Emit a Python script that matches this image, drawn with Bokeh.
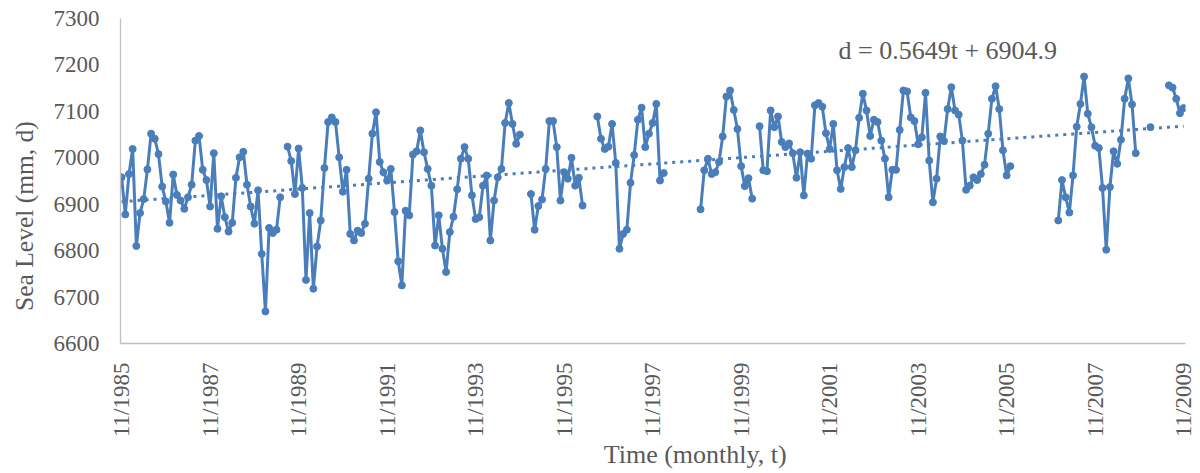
import numpy as np
from bokeh.plotting import figure
from bokeh.models import FixedTicker, Label
from bokeh.embed import file_html
from bokeh.resources import INLINE

# Monthly sea level (mm), t = 1 .. 289 (11/1985 .. 11/2009); None = missing month
sea_level = [
    6958, 6878, 6965, 7019, 6810, 6881, 6911, 6975, 7052, 7041, 7008, 6938,
    6906, 6860, 6964, 6920, 6908, 6890, 6915, 6942, 7037, 7047, 6974, 6952,
    6895, 7010, 6847, 6917, 6872, 6841, 6860, 6957, 7001, 7013, 6942, 6895,
    6858, 6930, 6793, 6669, 6849, 6838, 6845, 6915, None, 7024, 6993, 6922,
    7020, 6935, 6737, 6881, 6718, 6809, 6865, 6978, 7077, 7087, 7077, 7001,
    6927, 6974, 6836, 6822, 6843, 6838, 6858, 6955, 7052, 7098, 6991, 6969,
    6951, 6976, 6883, 6777, 6725, 6886, 6876, 7007, 7014, 7059, 7012, 6976,
    6940, 6811, 6876, 6804, 6754, 6840, 6873, 6932, 6998, 7023, 6998, 6919,
    6868, 6872, 6940, 6962, 6822, 6908, 6958, 6976, 7075, 7118, 7073, 7030,
    7050, None, None, 6922, 6845, 6896, 6910, 6976, 7079, 7079, 7023, 6908,
    6969, 6955, 7000, 6940, 6957, 6897, None, None, None, 7089, 7041, 7019,
    7024, 7073, 6989, 6804, 6836, 6845, 6946, 7006, 7082, 7108, 7023, 7052,
    7075, 7116, 6951, 6967, None, None, None, None, None, None, None, None,
    None, 6889, 6973, 6998, 6965, 6969, 6991, 7046, 7132, 7145, 7103, 7062,
    6982, 6939, 6956, 6912, None, 7068, 6973, 6971, 7102, 7066, 7089, 7034,
    7023, 7031, 7010, 6957, 7012, 6919, 7009, 6998, 7113, 7118, 7110, 7053,
    7019, 7073, 6973, 6933, 6980, 7021, 6980, 7016, 7086, 7138, 7102, 7047,
    7082, 7077, 7037, 6998, 6915, 6974, 6974, 7060, 7145, 7143, 7087, 7079,
    7029, 7044, 7140, 6994, 6904, 6955, 7046, 7036, 7105, 7152, 7102, 7093,
    7037, 6931, 6940, 6958, 6952, 6965, 6985, 7052, 7127, 7154, 7105, 7016,
    6962, 6982, None, None, None, None, None, None, None, None, None, None,
    None, None, 6865, 6952, 6915, 6882, 6962, 7067, 7116, 7175, 7095, 7066,
    7026, 7021, 6935, 6802, 6937, 7014, 6987, 7039, 7127, 7171, 7115, 7010,
    None, None, None, 7066, None, None, None, None, 7156, 7151, 7127, 7096,
    7107,
]

tick_months = [1, 25, 49, 73, 97, 121, 145, 169, 193, 217, 241, 265, 289]
tick_labels = ["11/1985", "11/1987", "11/1989", "11/1991", "11/1993", "11/1995",
               "11/1997", "11/1999", "11/2001", "11/2003", "11/2005", "11/2007",
               "11/2009"]
y_ticks = [6600, 6700, 6800, 6900, 7000, 7100, 7200, 7300]

x_title = "Time (monthly, t)"
y_title = "Sea Level (mm, d)"

trend_slope = 0.5649
trend_intercept = 6904.9
equation_text = "d = 0.5649t + 6904.9"

t = np.arange(1, len(sea_level) + 1)
d = np.array([np.nan if v is None else v for v in sea_level], dtype=float)
trend = trend_slope * t + trend_intercept

BLUE = "#4a7ebb"
GREY = "#595959"
FONT = "Liberation Serif"
NBSP = "\u00a0"

p = figure(width=1200, height=473, output_backend="svg", toolbar_location=None,
           x_range=(0.7, 289.5), y_range=(6600, 7300),
           min_border_left=120, min_border_right=15, min_border_top=18,
           min_border_bottom=130)
p.outline_line_color = None
p.xgrid.visible = False
p.ygrid.visible = False
p.background_fill_color = "white"

p.line(t, d, line_width=3, color=BLUE)
p.scatter(t, d, size=7, color=BLUE)
p.line(t, trend, line_width=3, color=BLUE, line_dash="3 5")

for ax in (p.xaxis[0], p.yaxis[0]):
    ax.axis_line_color = "#bfbfbf"
    ax.axis_line_width = 1.3
    ax.major_tick_line_color = None
    ax.minor_tick_line_color = None
    ax.major_label_text_font = FONT
    ax.major_label_text_font_size = "23px"
    ax.major_label_text_color = GREY
    ax.axis_label_text_font = FONT
    ax.axis_label_text_color = GREY
    ax.axis_label_text_font_style = "normal"

p.xaxis.ticker = FixedTicker(ticks=tick_months)
p.xaxis.major_label_overrides = {m: s for m, s in zip(tick_months, tick_labels)}
p.xaxis.major_label_orientation = np.pi / 2
p.xaxis.major_label_standoff = 13
# leading non-breaking spaces shift the centred title right, as in the reference
p.xaxis.axis_label = NBSP * 13 + x_title
p.xaxis.axis_label_text_font_size = "26px"
p.xaxis.axis_label_standoff = 0

p.yaxis.ticker = FixedTicker(ticks=y_ticks)
p.yaxis.major_label_standoff = 15
# trailing non-breaking spaces shift the rotated title downward
p.yaxis.axis_label = y_title + NBSP * 11
p.yaxis.axis_label_text_font_size = "25.5px"
p.yaxis.axis_label_standoff = 12

p.add_layout(Label(x=195.4, y=7231, text=equation_text, text_font=FONT,
                   text_font_size="26px", text_color=GREY,
                   text_baseline="alphabetic", text_align="left"))

open("out.html", "w").write(file_html(p, INLINE))
